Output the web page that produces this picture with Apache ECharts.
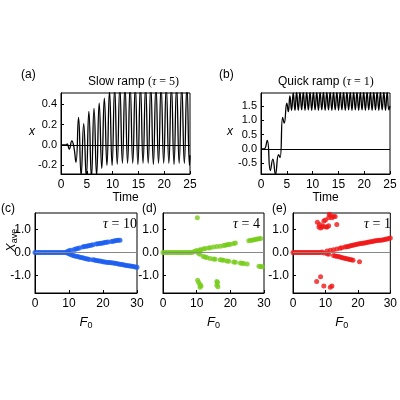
<!DOCTYPE html><html><head><meta charset="utf-8">
<script src="https://cdn.jsdelivr.net/npm/echarts@6/dist/echarts.min.js"></script>
<style>html,body{margin:0;background:#fff}#c{width:400px;height:400px}</style></head><body><div id="c"></div>
<script>
// (a) slow ramp extrema (time, x)
const aT=[0,1.0,1.2,1.6,2.1,2.5,2.9,3.4,3.9,4.4,4.9,5.4,5.9,6.4,6.9,7.4,7.9,8.4,8.9,9.4,9.9,10.4,10.9,11.4,11.9,12.4,12.9,13.4,13.9,14.4,14.9,15.4,15.9,16.4,16.9,17.4,17.9,18.4,18.9,19.4,19.9,20.4,20.9,21.4,21.9,22.4,22.9,23.4,23.9,24.4,24.9,25];
const aX=[0,0,0.01,-0.04,0.04,-0.02,-0.17,0.27,-0.3,0.21,-0.32,0.33,-0.32,0.36,-0.3,0.41,-0.23,0.46,-0.2,0.53,-0.2,0.56,-0.19,0.57,-0.18,0.58,-0.18,0.58,-0.18,0.58,-0.19,0.58,-0.18,0.58,-0.18,0.58,-0.19,0.58,-0.18,0.58,-0.18,0.58,-0.18,0.58,-0.19,0.58,-0.18,0.58,-0.18,0.58,-0.2,-0.1];
// (b) quick ramp extrema
const bT=[0,0.6,1.2,1.8,2.3,2.8,3.4,3.7,4.2,4.5,5.0,5.3,5.6,5.93,6.25,6.58,6.9,7.23,7.55,7.88,8.2,8.53,8.85,9.18,9.5,9.83,10.15,10.48,10.8,11.13,11.45,11.78,12.1,12.43,12.75,13.08,13.4,13.73,14.05,14.38,14.7,15.03,15.35,15.68,16.0,16.33,16.65,16.98,17.3,17.63,17.95,18.28,18.6,18.93,19.25,19.58,19.9,20.23,20.55,20.88,21.2,21.53,21.85,22.18,22.5,22.83,23.15,23.48,23.8,24.13,24.45,24.78,25];
const bX=[0,0,0.3,-0.75,-0.35,-0.88,-0.2,-0.3,1.1,0.9,1.6,1.3,1.85,1.35,1.95,1.35,1.98,1.35,1.98,1.36,1.98,1.35,1.98,1.36,1.98,1.35,1.98,1.36,1.98,1.35,1.98,1.36,1.98,1.35,1.98,1.36,1.98,1.35,1.98,1.36,1.98,1.35,1.98,1.36,1.98,1.35,1.98,1.36,1.98,1.35,1.98,1.36,1.98,1.35,1.98,1.36,1.98,1.35,1.98,1.36,1.98,1.35,1.98,1.36,1.98,1.35,1.98,1.36,1.98,1.35,1.98,1.36,1.5];
// (c) tau=10
const cF=[0,0.5,1,1.5,2,2.5,3,3.5,4,4.5,5,5.5,6,6.5,7,7.5,8,8.5,9,9.5,10,10.5,11.5,12,12.5,13,14,14.5,15,15.5,16,16.5,17,18,18.5,19,19.5,20,20.5,21,21.5,22.5,23,23.5,24,24.5,25, 9.5,10,10.5,11,11.5,12,12.5,13,13.5,14,14.5,15,15.5,16,17,17.5,18,18.5,19,19.5,20,20.5,21,21.5,22,22.5,23,23.5,24,24.5,25,25.5,26,26.5,27,27.5,28,28.5,29,29.5,30];
const cX=[0,0,0,0,0,0,0,0,0,0,0,0,0,0,0,0,0,0,0,0.04,0.07,0.09,0.13,0.15,0.17,0.19,0.23,0.25,0.27,0.28,0.3,0.31,0.33,0.36,0.37,0.39,0.4,0.41,0.43,0.44,0.45,0.47,0.48,0.5,0.51,0.52,0.53, -0.03,-0.06,-0.09,-0.12,-0.14,-0.16,-0.18,-0.2,-0.22,-0.23,-0.25,-0.27,-0.28,-0.3,-0.32,-0.33,-0.35,-0.36,-0.37,-0.38,-0.4,-0.41,-0.42,-0.43,-0.44,-0.45,-0.46,-0.47,-0.48,-0.5,-0.51,-0.52,-0.53,-0.55,-0.56,-0.57,-0.59,-0.6,-0.61,-0.63,-0.64];
// (d) tau=4
const dF=[0,0.5,1,1.5,2,2.5,3,3.5,4,4.5,5,5.5,6,6.5,7,7.5,8,8.5,9,9.5,10,10.2,10.6,11,11.2,12,12.5,13.5,14,15,16,17,18,18.5,19,19.5,20,21,21.5,25.5,26,26.5,27,27.5,28,28.5,29, 10.5,11,12,12.5,13,14,15,15.5,17,17.5,18,19,19.5,21,21.5,23,23.5,24,25,28.5,29,29.5, 10.3,10.6,11,11,11.3,16,16.2,16,16.3];
const dX=[0,0,0,0,0,0,0,0,0,0,0,0,0,0,0,0,0,0,0.02,0.05,0.08,1.5,0.05,0.1,0.12,0.15,0.17,0.19,0.2,0.23,0.25,0.27,0.3,0.31,0.33,0.34,0.35,0.39,0.41,0.5,0.52,0.53,0.55,0.56,0.58,0.59,0.6, -0.04,-0.08,-0.18,-0.2,-0.22,-0.26,-0.28,-0.29,-0.32,-0.33,-0.34,-0.37,-0.38,-0.41,-0.42,-0.46,-0.47,-0.48,-0.5,-0.6,-0.61,-0.62, -1.2,-1.3,-1.38,-1.5,-1.45,-1.25,-1.3,-1.42,-1.48];
// (e) tau=1
const eF=[0,0.5,1,1.5,2,2.5,3,3.5,4,4.5,5,5.5,6,6.5,7,7.5,8,8.5,9,10.5,11.5,12.5,13.5,14.5,15,16,16.5,17,17.5,18,18.5,19,19.5,20,20.5,21,21.5,22,22.5,23,23.5,24,24.5,25,25.5,26,26.5,27,27.5,28,28.5,29,29.5,30, 9.5,10.5,11,12.5,13,13.5,14,14.5,15,15.5,16,16.5,17,17.5,18,18.5,20.5, 7.5,8,8.2,8.5,9,9.5,10,10.5,11,11.2,11.5,12,12.5,13,13.5,11,10.2,9.2, 7.3,8.5,9.5,11.5,12];
const eX=[0,0,0,0,0,0,0,0,0,0,0,0,0,0,0,0,0,0,0.02,0.06,0.09,0.12,0.15,0.18,0.2,0.23,0.24,0.26,0.28,0.3,0.31,0.33,0.34,0.36,0.37,0.39,0.4,0.41,0.42,0.44,0.45,0.46,0.47,0.49,0.5,0.51,0.52,0.53,0.54,0.55,0.57,0.58,0.6,0.62, -0.02,-0.06,-0.08,-0.13,-0.15,-0.17,-0.18,-0.2,-0.22,-0.24,-0.25,-0.27,-0.28,-0.3,-0.32,-0.34,-0.4, 1.3,1.1,1.2,1.05,1.1,1.35,1.4,1.1,1.5,1.65,1.6,1.5,1.55,1.55,1.2,1.15,1.1,1.15, -1.25,-1.05,-1.45,-1.5,-1.45];
// tick labels
const aTicks=[-0.2,0,0.2,0.4];
const bTicks=[-0.5,0,0.5,1,1.5];
const fTicks=[-1,0,1];

const pairs=(x,y)=>x.map((v,i)=>[v,y[i]]);
const F='Liberation Sans';
const txt={fontFamily:F,fontSize:11,color:'#000'};
const gridsPos=[{left:61,right:210,top:93,height:81},{left:261,right:10,top:93,height:81},
 {left:35,right:263,top:213,height:80},{left:163,right:136,top:213,height:80},{left:293,right:5,top:213,height:80}]
 .map(g=>({...g,show:true,borderColor:'#000',borderWidth:1,backgroundColor:'transparent'}));
const xRanges=[[0,25,5],[0,25,5],[0,30,10],[0,30,10],[0,30,10]];
const yRanges=[[-0.285,0.51],[-0.87,1.95],[-1.75,1.7],[-1.75,1.7],[-1.75,1.7]];
const yTicks=[aTicks,bTicks,fTicks,fTicks,fTicks];
const xAxis=gridsPos.map((g,i)=>({type:'value',gridIndex:i,min:xRanges[i][0],max:xRanges[i][1],interval:xRanges[i][2],
 axisLine:{show:true,onZero:false,lineStyle:{color:'#000'}},axisTick:{inside:true,length:3,lineStyle:{color:'#000'}},
 axisLabel:{...txt,fontSize:12,margin:5},splitLine:{show:false},
 name:i<2?'Time':'{i|F}{s|0}',nameLocation:'middle',nameGap:i<2?18:21,
 nameTextStyle:{...txt,fontSize:12,rich:{i:{fontFamily:F,fontSize:13,fontStyle:'italic'},s:{fontFamily:F,fontSize:9,padding:[7,0,0,0]}}}}));
const yAxis=gridsPos.map((g,i)=>({type:'value',gridIndex:i,min:yRanges[i][0],max:yRanges[i][1],
 axisLine:{show:true,onZero:false,lineStyle:{color:'#000'}},
 axisTick:{inside:true,length:3,lineStyle:{color:'#000'},customValues:yTicks[i]},
 axisLabel:{show:false},splitLine:{show:false}}));
const zero=(i,c)=>({type:'line',xAxisIndex:i,yAxisIndex:i,data:[],markLine:{silent:true,symbol:'none',label:{show:false},lineStyle:{color:c,width:1,type:'solid'},data:[{yAxis:0}]}});
const sc=(i,d,c)=>({type:'scatter',xAxisIndex:i,yAxisIndex:i,data:d,symbolSize:5,itemStyle:{color:c}});
const tau=(l,s)=>({type:'text',left:l,top:217,style:{rich:{t:{fontFamily:'Liberation Serif',fontSize:14,fontStyle:'italic'},b:{fontFamily:'Liberation Serif',fontSize:14}},text:'{t|τ}{b| = '+s+'}'}});
const opt={animation:false,
 grid:gridsPos,xAxis:xAxis,yAxis:yAxis,
 series:[
  zero(0,'#000'),zero(1,'#000'),zero(2,'#888'),zero(3,'#888'),zero(4,'#888'),
  {type:'line',xAxisIndex:0,yAxisIndex:0,data:pairs(aT,aX),smooth:0.5,showSymbol:false,lineStyle:{color:'#000',width:1.3}},
  {type:'line',xAxisIndex:1,yAxisIndex:1,data:pairs(bT,bX),smooth:0.5,showSymbol:false,lineStyle:{color:'#000',width:1.3}},
  sc(2,pairs(cF,cX),'#1c5ef0'),sc(3,pairs(dF,dX),'#77cc1a'),sc(4,pairs(eF,eX),'#f01818')],
 graphic:[
  {type:'text',left:21,top:69,style:{text:'(a)',font:'12px "Liberation Sans"'}},
  {type:'text',left:219,top:69,style:{text:'(b)',font:'12px "Liberation Sans"'}},
  {type:'text',left:1,top:203,style:{text:'(c)',font:'12px "Liberation Sans"'}},
  {type:'text',left:142,top:203,style:{text:'(d)',font:'12px "Liberation Sans"'}},
  {type:'text',left:272,top:203,style:{text:'(e)',font:'12px "Liberation Sans"'}},
  {type:'text',left:88,top:76,style:{rich:{a:{fontFamily:F,fontSize:12},t:{fontFamily:'Liberation Serif',fontSize:12,fontStyle:'italic'},b:{fontFamily:'Liberation Serif',fontSize:12}},text:'{a|Slow ramp }{b|(}{t|τ}{b| = 5)}'}},
  {type:'text',left:278,top:76,style:{rich:{a:{fontFamily:F,fontSize:12},t:{fontFamily:'Liberation Serif',fontSize:12,fontStyle:'italic'},b:{fontFamily:'Liberation Serif',fontSize:12}},text:'{a|Quick ramp }{b|(}{t|τ}{b| = 1)}'}},
  {type:'text',left:29,top:126,style:{text:'x',font:'italic 12px "Liberation Sans"'}},
  {type:'text',left:227,top:126,style:{text:'x',font:'italic 12px "Liberation Sans"'}},
  {type:'text',x:4,y:252,rotation:Math.PI/2,style:{rich:{i:{fontFamily:F,fontSize:13,fontStyle:'italic'},s:{fontFamily:F,fontSize:9,padding:[6,0,0,0]}},text:'{i|X}{s|ave}'}},
  tau(103,'10'),tau(233,'4'),tau(364,'1')
 ]};
const chart=echarts.init(document.getElementById('c'));
chart.setOption(opt);
// y tick labels placed through the axes' own scales
const labels=[];
gridsPos.forEach((g,i)=>yTicks[i].forEach(v=>{
  const y=chart.convertToPixel({yAxisIndex:i},v);
  labels.push({type:'text',x:g.left-4,y:y,style:{text:v.toFixed(1),font:(i<2?11:12)+'px "Liberation Sans"',fill:'#000',align:'right',verticalAlign:'middle'}});
}));
chart.setOption({graphic:opt.graphic.concat(labels)});
</script></body></html>
